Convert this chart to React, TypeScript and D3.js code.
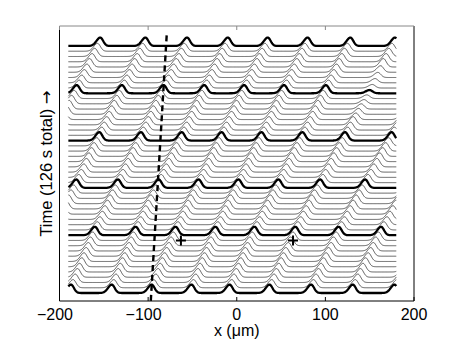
import React, { useEffect, useRef } from 'react'
import * as d3 from 'd3'

const W = 457
const H = 344
// axes box in pixels
const M = { left: 59.5, right: 414, top: 26, bottom: 301 }
const FONT = '"Liberation Sans", Arial, Helvetica, sans-serif'

const xDomain = [-200, 200]
const xTicks = [-200, -100, 0, 100, 200]
const traceStart = -190
const traceEnd = 180

// rows drawn heavy (row 0 = first trace, at the bottom)
const thickRows = [0, 11, 20, 29, 38, 47]

// how far the pattern has moved (um) in each trace, bottom to top
const travel = [
  0, 2.4, 4.9, 7.4, 9.8, 12.3, 14.8, 17.2, 19.7, 22.1, 24.6, 27,
  29.9, 32.8, 35.6, 38.5, 41.4, 44.3, 47.2, 50.1, 53,
  55.9, 58.8, 61.7, 64.6, 67.4, 70.3, 73.2, 76.1, 79,
  81.8, 84.7, 87.5, 90.3, 93.1, 96, 98.8, 101.7, 104.5,
  107.4, 110.3, 113.2, 116.1, 119, 121.9, 124.8, 127.9, 131,
]

// peak positions in the first trace (um), and how fast each one moves
const peakStart = [-285, -234, -187, -141, -96, -51, -8, 37, 84, 131, 178, 225]
const peakRate = [1, 1, 1, 1, 1, 1, 1.04, 1.08, 1.15, 1.18, 1.2, 1.2]

// peak height of each trace, in trace spacings
const amp = [
  1.6, 1.55, 1.6, 1.65, 1.65, 1.7, 1.65, 1.65, 1.6, 1.65, 1.6, 1.6,
  1.55, 1.5, 1.55, 1.6, 1.65, 1.65, 1.6, 1.55, 1.6,
  1.55, 1.5, 1.55, 1.6, 1.65, 1.65, 1.6, 1.55, 1.6,
  1.55, 1.5, 1.55, 1.55, 1.6, 1.65, 1.6, 1.55, 1.55,
  1.5, 1.45, 1.5, 1.55, 1.6, 1.55, 1.55, 1.5, 1.6,
]

// one weak peak near the right edge, rows 33..42
const weakPeak = 7
const weakRows = [33, 34, 35, 36, 37, 38, 39, 40, 41, 42]
const weakGain = [0.8, 0.7, 0.6, 0.5, 0.45, 0.4, 0.45, 0.55, 0.65, 0.8]

const widthBack = 6
const widthFront = 4.6

// the dashed guide and the two markers
const guide = [
  [-97, -1.5],
  [-79, 49.2],
]
const markers = [
  [-63, 10],
  [63.5, 10],
]

export default function App() {
  const svgRef = useRef<SVGSVGElement>(null)

  useEffect(() => {
    const svg = d3.select(svgRef.current)
    svg.selectAll('*').remove()

    const x = d3.scaleLinear().domain(xDomain).range([M.left, M.right])
    const y = d3.scaleLinear().domain([-1.52, 50.8]).range([M.bottom, M.top])

    const xs = d3.range(traceStart, traceEnd + 0.001, 0.5)

    const gain = (row: number, k: number) => {
      if (k !== weakPeak) return 1
      const j = weakRows.indexOf(row)
      return j < 0 ? 1 : weakGain[j]
    }

    const profile = (row: number) =>
      xs.map((px) => {
        let h = 0
        peakStart.forEach((p0, k) => {
          const c = p0 + travel[row] * peakRate[k]
          const d = px - c
          const w = d < 0 ? widthBack : widthFront
          h += gain(row, k) * Math.exp(-((d / w) ** 2))
        })
        return [px, row + amp[row] * h] as [number, number]
      })

    const line = d3
      .line<[number, number]>()
      .x((d) => x(d[0]))
      .y((d) => y(d[1]))

    const rows = d3.range(travel.length)

    // thin traces first, heavy ones on top
    const g = svg.append('g')
    rows
      .filter((r) => !thickRows.includes(r))
      .forEach((row) => {
        g.append('path')
          .attr('d', line(profile(row)))
          .attr('fill', 'none')
          .attr('stroke', '#3c3c3c')
          .attr('stroke-width', 0.85)
      })
    thickRows.forEach((row) => {
      g.append('path')
        .attr('d', line(profile(row)))
        .attr('fill', 'none')
        .attr('stroke', '#000')
        .attr('stroke-width', 2.3)
        .attr('stroke-linejoin', 'round')
    })

    // dashed guide
    svg
      .append('path')
      .attr('d', line(guide as [number, number][]))
      .attr('fill', 'none')
      .attr('stroke', '#000')
      .attr('stroke-width', 2.4)
      .attr('stroke-dasharray', '6,4')

    // markers
    svg
      .append('g')
      .selectAll('path')
      .data(markers)
      .join('path')
      .attr('d', (d) => {
        const cx = x(d[0])
        const cy = y(d[1])
        return `M${cx - 5},${cy}H${cx + 5}M${cx},${cy - 5}V${cy + 5}`
      })
      .attr('stroke', '#000')
      .attr('stroke-width', 2)

    // box
    svg
      .append('path')
      .attr('d', `M${M.left},${M.top}V${M.bottom}H${M.right}V${M.top}`)
      .attr('fill', 'none')
      .attr('stroke', '#000')
      .attr('stroke-width', 1)
    svg
      .append('line')
      .attr('x1', M.left)
      .attr('x2', M.right)
      .attr('y1', M.top)
      .attr('y2', M.top)
      .attr('stroke', '#888')
      .attr('stroke-width', 1)

    // ticks, top and bottom, pointing in
    const ticks = svg.append('g').attr('stroke', '#000').attr('stroke-width', 1)
    xTicks.forEach((t) => {
      ticks.append('line').attr('x1', x(t)).attr('x2', x(t)).attr('y1', M.bottom).attr('y2', M.bottom - 4)
      ticks.append('line').attr('x1', x(t)).attr('x2', x(t)).attr('y1', M.top).attr('y2', M.top + 4).attr('stroke', '#888')
    })

    // tick labels: digits centred on the tick, minus sign hanging left
    svg
      .append('g')
      .selectAll('text')
      .data(xTicks)
      .join('text')
      .attr('x', (t) => (t < 0 ? x(t) + 13.5 : x(t)))
      .attr('y', 320)
      .attr('text-anchor', (t) => (t < 0 ? 'end' : 'middle'))
      .attr('font-family', FONT)
      .attr('font-size', 16)
      .text((t) => (t < 0 ? `\u2212${-t}` : `${t}`))

    svg
      .append('text')
      .attr('x', (M.left + M.right) / 2)
      .attr('y', 336)
      .attr('text-anchor', 'middle')
      .attr('font-family', FONT)
      .attr('font-size', 16)
      .text('x (\u03bcm)')

    const ylab = svg
      .append('text')
      .attr('transform', `translate(51.5,${(M.top + M.bottom) / 2}) rotate(-90)`)
      .attr('text-anchor', 'middle')
      .attr('font-family', FONT)
      .attr('font-size', 16.5)
    ylab.append('tspan').text('Time (126 s total) ')
    ylab.append('tspan').attr('font-family', '"DejaVu Sans", sans-serif').text('\u2192')
  }, [])

  return (
    <svg
      ref={svgRef}
      width={W}
      height={H}
      style={{ position: 'absolute', left: 0, top: 0, background: 'white' }}
    />
  )
}
